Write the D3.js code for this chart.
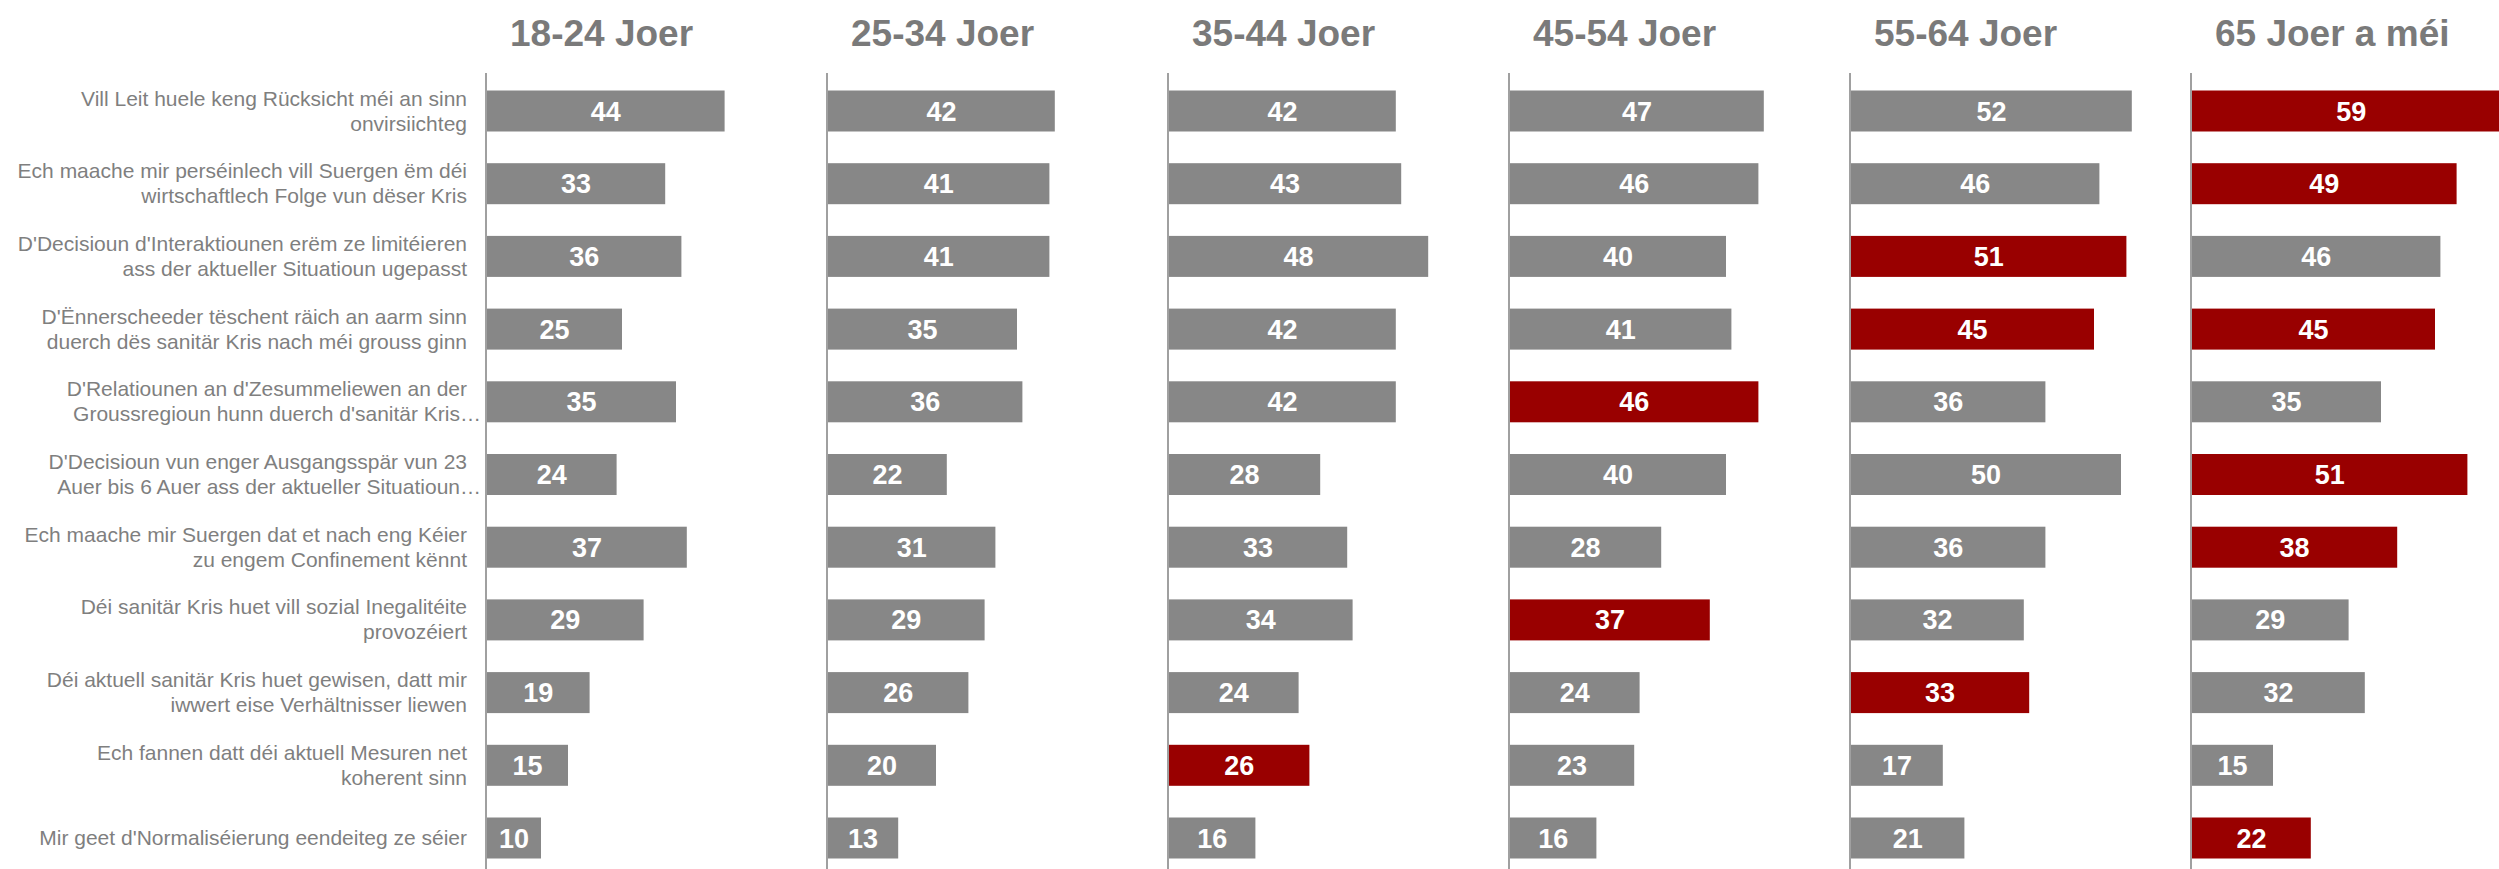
<!DOCTYPE html>
<html>
<head>
<meta charset="utf-8">
<script src="https://cdn.jsdelivr.net/npm/d3@7"></script>
<style>
  body { margin: 0; background: #fff; }
  svg { display: block; font-family: "Liberation Sans", Arial, sans-serif; }
</style>
</head>
<body>
<svg id="chart" width="2499" height="869"></svg>
<script>
// age groups (panel titles)
const groups = ['18-24 Joer', '25-34 Joer', '35-44 Joer', '45-54 Joer', '55-64 Joer', '65 Joer a méi'];

// statements, one entry per row (lines as shown)
const statements = [
  ['Vill Leit huele keng Rücksicht méi an sinn', 'onvirsiichteg'],
  ['Ech maache mir perséinlech vill Suergen ëm déi', 'wirtschaftlech Folge vun dëser Kris'],
  ["D'Decisioun d'Interaktiounen erëm ze limitéieren", 'ass der aktueller Situatioun ugepasst'],
  ["D'Ënnerscheeder tëschent räich an aarm sinn", 'duerch dës sanitär Kris nach méi grouss ginn'],
  ["D'Relatiounen an d'Zesummeliewen an der", "Groussregioun hunn duerch d'sanitär Kris…"],
  ["D'Decisioun vun enger Ausgangsspär vun 23", 'Auer bis 6 Auer ass der aktueller Situatioun…'],
  ['Ech maache mir Suergen dat et nach eng Kéier', 'zu engem Confinement kënnt'],
  ['Déi sanitär Kris huet vill sozial Inegalitéite', 'provozéiert'],
  ['Déi aktuell sanitär Kris huet gewisen, datt mir', 'iwwert eise Verhältnisser liewen'],
  ['Ech fannen datt déi aktuell Mesuren net', 'koherent sinn'],
  ["Mir geet d'Normaliséierung eendeiteg ze séier"]
];

// values per age group, same order as statements
const v18_24 = [44, 33, 36, 25, 35, 24, 37, 29, 19, 15, 10];
const v25_34 = [42, 41, 41, 35, 36, 22, 31, 29, 26, 20, 13];
const v35_44 = [42, 43, 48, 42, 42, 28, 33, 34, 24, 26, 16];
const v45_54 = [47, 46, 40, 41, 46, 40, 28, 37, 24, 23, 16];
const v55_64 = [52, 46, 51, 45, 36, 50, 36, 32, 33, 17, 21];
const v65 = [59, 49, 46, 45, 35, 51, 38, 29, 32, 15, 22];

const series = [v18_24, v25_34, v35_44, v45_54, v55_64, v65];

const grey = '#878787';
const red = '#990000';
const textGrey = '#7f7f7f';

const svg = d3.select('#chart');

const panelX = d3.scaleBand()
  .domain(groups)
  .range([486, 486 + 341 * groups.length]);

const y = d3.scalePoint()
  .domain(d3.range(statements.length))
  .range([111, 838]);

const x = d3.scaleLinear()
  .domain([0, 100])
  .range([0, 540]);

const barH = 41;

// highest value in each row gets the red colour
const rowMax = statements.map((s, i) => d3.max(series, s => s[i]));

// row labels
const lbl = svg.append('g')
  .selectAll('text')
  .data(statements)
  .enter().append('text')
  .attr('text-anchor', 'end')
  .attr('fill', textGrey)
  .style('font-size', '21px');

lbl.each(function(lines, i) {
  const t = d3.select(this);
  const n = lines.length;
  lines.forEach((line, j) => {
    const hang = line.endsWith('…') ? 14 : 0;
    t.append('tspan')
      .attr('x', 467 + hang)
      .attr('y', y(i) + (j - (n - 1) / 2) * 25 + 7)
      .text(line);
  });
});

// panels
groups.forEach((g, gi) => {
  const px = panelX(g);
  const panel = svg.append('g').attr('transform', `translate(${px},0)`);

  panel.append('text')
    .attr('x', 24)
    .attr('y', 46)
    .attr('fill', '#7a7a7a')
    .style('font-size', '37px')
    .style('font-weight', 'bold')
    .text(g);

  panel.append('g')
    .selectAll('rect')
    .data(series[gi])
    .enter().append('rect')
    .attr('x', 1)
    .attr('y', (d, i) => y(i) - barH / 2)
    .attr('width', d => x(d))
    .attr('height', barH)
    .attr('fill', (d, i) => d === rowMax[i] ? red : grey);

  panel.append('g')
    .selectAll('text')
    .data(series[gi])
    .enter().append('text')
    .attr('x', d => 1 + x(d) / 2)
    .attr('y', (d, i) => y(i) + 9.5)
    .attr('text-anchor', 'middle')
    .attr('fill', '#fff')
    .style('font-size', '27px')
    .style('font-weight', 'bold')
    .text(d => d);

  panel.append('line')
    .attr('x1', 0)
    .attr('x2', 0)
    .attr('y1', 73)
    .attr('y2', 869)
    .attr('stroke', '#808080')
    .attr('stroke-width', 1.5);
});
</script>
</body>
</html>
